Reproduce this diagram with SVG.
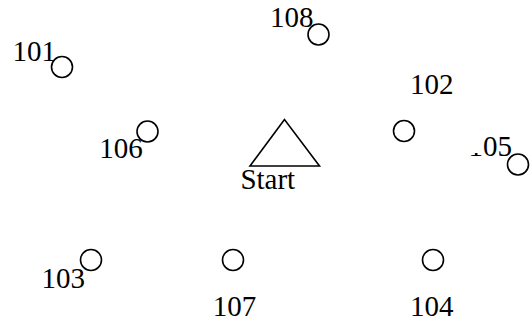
<svg xmlns="http://www.w3.org/2000/svg" width="532" height="321" viewBox="0 0 532 321">
<style>
.n{fill:none;stroke:#000;stroke-width:1.6}
text{font-family:'Liberation Serif','Times New Roman',Times,serif;font-size:29px;fill:#000}
.e{text-anchor:end}
</style>
<defs>
<clipPath id="c105"><rect x="480" y="0" width="60" height="321"/><rect x="0" y="153" width="532" height="200"/></clipPath>
</defs>
<rect width="532" height="321" fill="#fff"/>
<g id="connectors"></g>
<g id="n101"><circle class="n" cx="62" cy="67" r="10.5"/><text class="e" x="56" y="61">101</text></g>
<g id="n108"><circle class="n" cx="318.5" cy="34.5" r="10.5"/><text class="e" x="313.5" y="27">108</text></g>
<g id="n102"><circle class="n" cx="404" cy="131" r="10.5"/><text x="410" y="94">102</text></g>
<g id="n105"><circle class="n" cx="518" cy="164.5" r="10.5"/><text class="e" x="512" y="156" clip-path="url(#c105)">105</text></g>
<g id="n106"><circle class="n" cx="147.5" cy="131.5" r="10.5"/><text class="e" x="142.7" y="158">106</text></g>
<g id="start"><polygon class="n" points="284.5,119.5 250,166 319.5,166"/><text x="240.4" y="189">Start</text></g>
<g id="n103"><circle class="n" cx="91" cy="260" r="10.5"/><text class="e" x="85" y="288">103</text></g>
<g id="n107"><circle class="n" cx="233" cy="260" r="10.5"/><text x="212.7" y="316">107</text></g>
<g id="n104"><circle class="n" cx="433" cy="260" r="10.5"/><text x="410" y="316">104</text></g>
</svg>
